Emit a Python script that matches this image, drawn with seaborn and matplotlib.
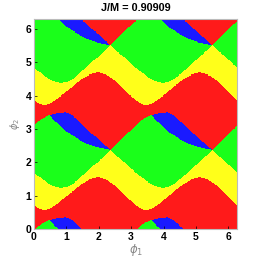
import numpy as np
import seaborn as sns
import matplotlib.pyplot as plt
from matplotlib.colors import ListedColormap

# colours of the four regions: red, yellow, green, blue
colours = ['#ff1a1a', '#ffff1a', '#1aff1a', '#1a1aff']

# boundary curves, one period (pi) in phi1
# red -> yellow
phi1_red_top = [0, 0.15, 0.32, 0.5, 0.75, 1.0, 1.25, 1.5, 1.75, 1.97, 2.2, 2.45, 2.7, 2.95, np.pi]
red_top = [0.72, 0.62, 0.56, 0.62, 0.78, 0.98, 1.18, 1.37, 1.50, 1.56, 1.50, 1.35, 1.13, 0.88, 0.72]

# yellow -> green
phi1_yellow_top = [0, 0.2, 0.4, 0.6, 0.8, 1.0, 1.2, 1.4, 1.6, 1.8, 2.0, 2.2, 2.36, 2.6, 2.9, np.pi]
yellow_top = [1.69, 1.55, 1.40, 1.29, 1.24, 1.26, 1.36, 1.52, 1.70, 1.87, 2.04, 2.21, 2.37, 2.16, 1.91, 1.69]

# green/blue -> red (start of the next red band)
phi1_red_bottom = [0, 0.1, 0.3, 0.49, 0.75, 1.0, 1.2, 1.47, 1.8, 2.1, 2.36, 2.7, 3.0, np.pi]
red_bottom = [3.09, 3.21, 3.34, 3.42, 3.48, 3.50, 3.40, 3.14, 2.85, 2.60, 2.37, 2.70, 2.98, 3.09]

# green -> blue (lower edge of the blue crescent)
phi1_blue_low = [0.49, 0.6, 0.78, 1.0, 1.21, 1.42, 1.63, 1.93, 2.15, 2.36]
blue_low = [3.42, 3.28, 3.14, 2.92, 2.80, 2.67, 2.56, 2.46, 2.41, 2.37]

n = 400
p = (np.arange(n) + 0.5) * 2 * np.pi / n
P1, P2 = np.meshgrid(p, p)

A = np.interp(P1, phi1_red_top, red_top, period=np.pi)
B = np.interp(P1, phi1_yellow_top, yellow_top, period=np.pi)
R = np.interp(P1, phi1_red_bottom, red_bottom, period=np.pi)
q = np.mod(P1, np.pi)
inside = (q >= phi1_blue_low[0]) & (q <= phi1_blue_low[-1])
G = np.where(inside, np.minimum(np.interp(q, phi1_blue_low, blue_low), R), R)

base = R - np.pi
s = np.mod(P2 - base, np.pi)
region = np.select([s < A - base, s < B - base, s < G - base], [0, 1, 2], 3)

fig = plt.figure(figsize=(2.63, 2.59), dpi=100)
ax = fig.add_axes([0.129, 0.115, 0.774, 0.810])
sns.heatmap(region, cmap=ListedColormap(colours), vmin=-0.5, vmax=3.5, cbar=False,
            xticklabels=False, yticklabels=False, ax=ax, rasterized=True)
ax.invert_yaxis()

tick_vals = [0, 1, 2, 3, 4, 5, 6]
pos = [v * n / (2 * np.pi) for v in tick_vals]
ax.set_xticks(pos)
ax.set_xticklabels([str(v) for v in tick_vals])
ax.set_yticks(pos)
ax.set_yticklabels([str(v) for v in tick_vals], rotation=0)
for lab in ax.get_xticklabels() + ax.get_yticklabels():
    lab.set_fontfamily('Liberation Sans')
    lab.set_fontweight('bold')
    lab.set_fontsize(7.5)
ax.tick_params(length=2, width=0.5, direction='in', pad=2)

for sp in ax.spines.values():
    sp.set_visible(True)
    sp.set_color('#bbbbbb')
    sp.set_linewidth(0.8)

plt.rcParams['mathtext.fontset'] = 'cm'
ax.set_xlabel(r'$\phi_1$', fontsize=8.5, color='#888888')
ax.set_ylabel(r'$\phi_2$', fontsize=7, color='#888888')
ax.xaxis.set_label_coords(0.5, -0.06)
ax.yaxis.set_label_coords(-0.06, 0.5)
ax.set_title('J/M = 0.90909', fontsize=7.8, fontweight='bold', family='Liberation Sans', pad=6)

fig.savefig('out.png', dpi=100)
